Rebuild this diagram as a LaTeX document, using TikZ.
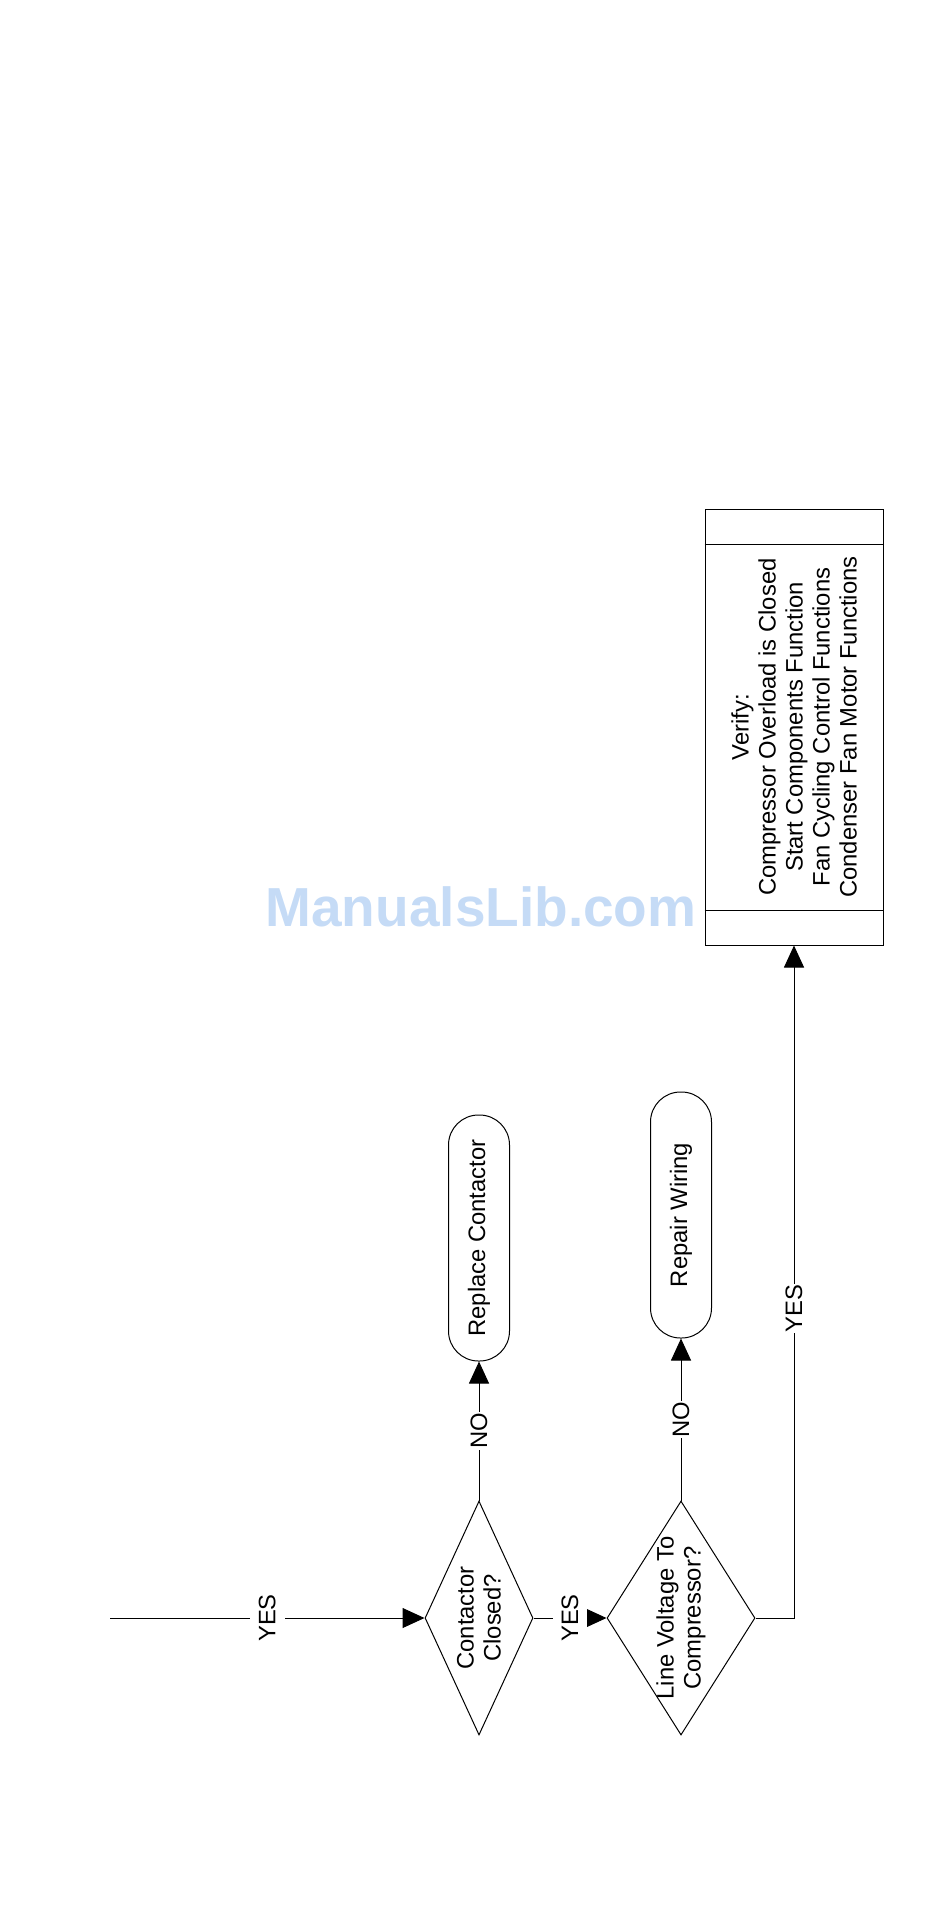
\documentclass[tikz,border=0pt]{standalone}
\usepackage{fontspec}
\setmainfont{Liberation Sans}
\usetikzlibrary{arrows.meta,shapes.geometric}
\definecolor{wmblue}{RGB}{197,219,246}

\begin{document}
\begin{tikzpicture}[
  x=1pt, y=-1pt, line width=1pt,
  every node/.style={font=\fontsize{23.8}{27}\selectfont},
  decision/.style={draw,diamond,rotate=90,inner sep=0pt,minimum width=234pt},
  qtext/.style={rotate=90,align=center,inner sep=0pt},
  terminal/.style={draw,rounded corners=30pt,rotate=90,minimum width=246pt,minimum height=61pt,inner sep=0pt},
  procbox/.style={draw,rotate=90,align=center,minimum width=436pt,minimum height=178pt},
  lbl/.style={fill=white,rotate=90,inner xsep=1pt,inner ysep=9pt},
  arrow/.style={-{Triangle[length=22pt,width=20pt]}}
]
\useasboundingbox (0,0) rectangle (950,1921);
\node[text=wmblue,font=\fontsize{55}{60}\selectfont\bfseries] (wm) at (481,907) {ManualsLib.com};

\coordinate (in) at (110,1618);
\node[decision,minimum height=108pt] (d1) at (479,1618) {};
\node[qtext] (d1t) at (d1) {Contactor\\Closed?};
\node[decision,minimum height=148pt] (d2) at (681,1618) {};
\node[qtext] (d2t) at (d2) {Line Voltage To\\Compressor?};
\node[terminal] (t1) at (479,1238) {Replace Contactor};
\node[terminal] (t2) at (681,1215) {Repair Wiring};
\node[procbox] (v) at (794,727) {Verify:\\Compressor Overload is Closed\\Start Components Function\\Fan Cycling Control Functions\\Condenser Fan Motor Functions};

% header and footer bands of the verify box
\draw ([yshift=-36pt]v.north east) -- ([yshift=-36pt]v.south east);
\draw ([yshift=35pt]v.north west) -- ([yshift=35pt]v.south west);

\draw[arrow] (in) -- node[lbl] {YES} (d1);
\draw[arrow] (d1) -- node[lbl] {NO} (t1);
\draw[arrow] (d1) -- node[lbl] {YES} (d2);
\draw[arrow] (d2) -- node[lbl] {NO} (t2);
\draw[arrow] (d2) -| node[lbl,pos=0.73] {YES} (v);
\end{tikzpicture}
\end{document}
